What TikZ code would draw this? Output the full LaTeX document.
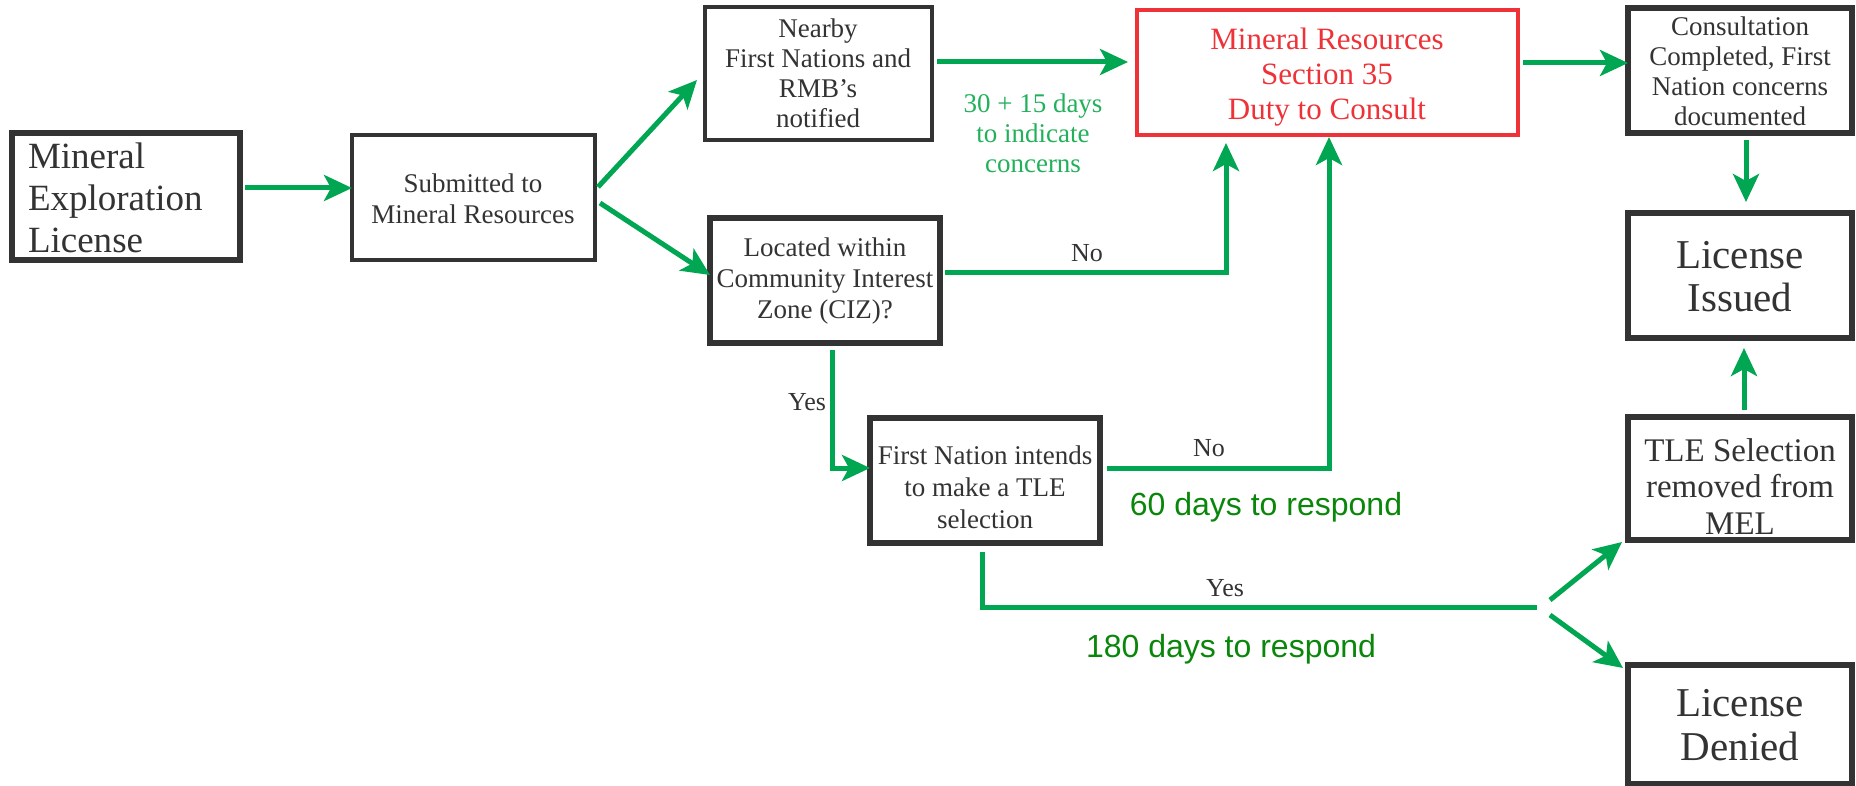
\documentclass[tikz,border=0pt]{standalone}
\usepackage{fontspec}
\setmainfont{Liberation Serif}
\newfontfamily\serf{Liberation Serif}
\newfontfamily\sansf{Liberation Sans}
\usetikzlibrary{arrows.meta,fit}
\definecolor{boxgray}{HTML}{333333}
\definecolor{flowgreen}{HTML}{00A651}
\definecolor{notegreen}{HTML}{22B05A}
\definecolor{daygreen}{HTML}{0A870A}
\definecolor{consultred}{HTML}{EE3237}

\begin{document}
\begin{tikzpicture}[x=0.5pt,y=-0.5pt,
  box/.style={draw=boxgray, line width=2.6pt, fill=white, inner sep=0pt, outer sep=0pt},
  thinbox/.style={box, line width=2pt},
  redbox/.style={box, draw=consultred, line width=2.2pt},
  txt/.style={text=boxgray, align=center, inner sep=0pt},
  small/.style={font=\serf\fontsize{13.5}{15.5}\selectfont},
  big/.style={font=\serf\fontsize{20.5}{21.5}\selectfont},
  answer/.style={text=boxgray, inner sep=0pt, font=\serf\fontsize{13}{15}\selectfont},
  days/.style={text=daygreen, inner sep=0pt, font=\sansf\fontsize{16}{18}\selectfont},
  flow/.style={draw=flowgreen, line width=2.5pt},
  arr/.style={flow, -{Stealth[length=14pt,width=13pt,inset=3.5pt]}}
]
\useasboundingbox (0,0) rectangle (1856,786);

% boxes
\node[box, fit={(12,133) (240,260)}] (mel) {};
\node[thinbox, fit={(352,135) (595,260)}] (sub) {};
\node[thinbox, fit={(705,7) (932,140)}] (nb) {};
\node[redbox, fit={(1137,10) (1518,135)}] (red) {};
\node[box, fit={(1628,8) (1852,133)}] (con) {};
\node[box, fit={(1628,213) (1852,338)}] (iss) {};
\node[box, fit={(710,218) (940,343)}] (loc) {};
\node[box, fit={(870,418) (1100,543)}] (fn) {};
\node[box, fit={(1628,417) (1852,540)}] (tle) {};
\node[box, fit={(1628,665) (1852,784)}] (den) {};

% box texts
\node[txt, align=left, text width=98pt, font=\serf\fontsize{18.5}{21}\selectfont] (mel-t) at (126,198) {Mineral\\Exploration\\License};
\node[txt, small] (sub-t) at (473,198.5) {Submitted to\\Mineral Resources};
\node[txt, font=\serf\fontsize{13.5}{15}\selectfont] (nb-t) at (818,73.5) {Nearby\\First Nations and\\RMB’s\\notified};
\node[txt, text=consultred, font=\serf\fontsize{15.5}{17.5}\selectfont] (red-t) at (1327,77) {Mineral Resources\\Section 35\\Duty to Consult};
\node[txt, font=\serf\fontsize{13.5}{15}\selectfont] (con-t) at (1740,71.5) {Consultation\\Completed, First\\Nation concerns\\documented};
\node[txt, big] (iss-t) at (1740,276.5) {License\\Issued};
\node[txt, small] (loc-t) at (825,281.5) {Located within\\Community Interest\\Zone (CIZ)?};
\node[txt, font=\serf\fontsize{13.5}{16}\selectfont] (fn-t) at (985,487) {First Nation intends\\to make a TLE\\selection};
\node[txt, font=\serf\fontsize{16.5}{18.3}\selectfont] (tle-t) at (1740,486.5) {TLE Selection\\removed from\\MEL};
\node[txt, font=\serf\fontsize{20.5}{22}\selectfont] (den-t) at (1740,725) {License\\Denied};

% connectors
\draw[arr, shorten <=2.5pt] (mel.east |- 0,188) -- (sub.west |- 0,188);
\draw[arr] ([shift={(3,-10.5)}]sub.east) -- ([shift={(-8,6.5)}]nb.west);
\draw[arr] ([shift={(5,5.5)}]sub.east) -- ([shift={(0,-5.5)}]loc.west);
\draw[arr] ([shift={(5,-11.5)}]nb.east) -- ([shift={(-9,-10.5)}]red.west);
\draw[arr] ([shift={(5,-8.5)}]loc.east) -| ([shift={(89,8)}]red.south west);
\draw[arr] ([shift={(7,7)}]loc.south) |- ([shift={(0,-12.5)}]fn.west);
\draw[arr] ([shift={(7,-12.5)}]fn.east) -| ([shift={(192,2)}]red.south west);
\coordinate (split) at (1537,607);
\draw[flow] ([shift={(-3,9)}]fn.south) |- (split);
\draw[arr] ([shift={(13,-7)}]split) -- ([shift={(-6,2)}]tle.south west);
\draw[arr] ([shift={(13,8)}]split) -- ([shift={(-5,3)}]den.north west);
\draw[arr] ([shift={(5,-9.5)}]red.east) -- ([shift={(0,-7.5)}]con.west);
\draw[arr] ([shift={(6,7)}]con.south) -- ([shift={(6,-11)}]iss.north);
\draw[arr] ([shift={(4,-7)}]tle.north) -- ([shift={(4,10)}]iss.south);

% connector labels
\node[txt, text=notegreen, font=\serf\fontsize{13.5}{15}\selectfont] (note) at (1033,133) {30 + 15 days\\to indicate\\concerns};
\node[answer] (no1) at (1087,253) {No};
\node[answer] (yes1) at (807,402) {Yes};
\node[answer] (no2) at (1209,448) {No};
\node[answer] (yes2) at (1225,588) {Yes};
\node[days] (d60) at (1266,507) {60 days to respond};
\node[days] (d180) at (1231,649) {180 days to respond};
\end{tikzpicture}
\end{document}
